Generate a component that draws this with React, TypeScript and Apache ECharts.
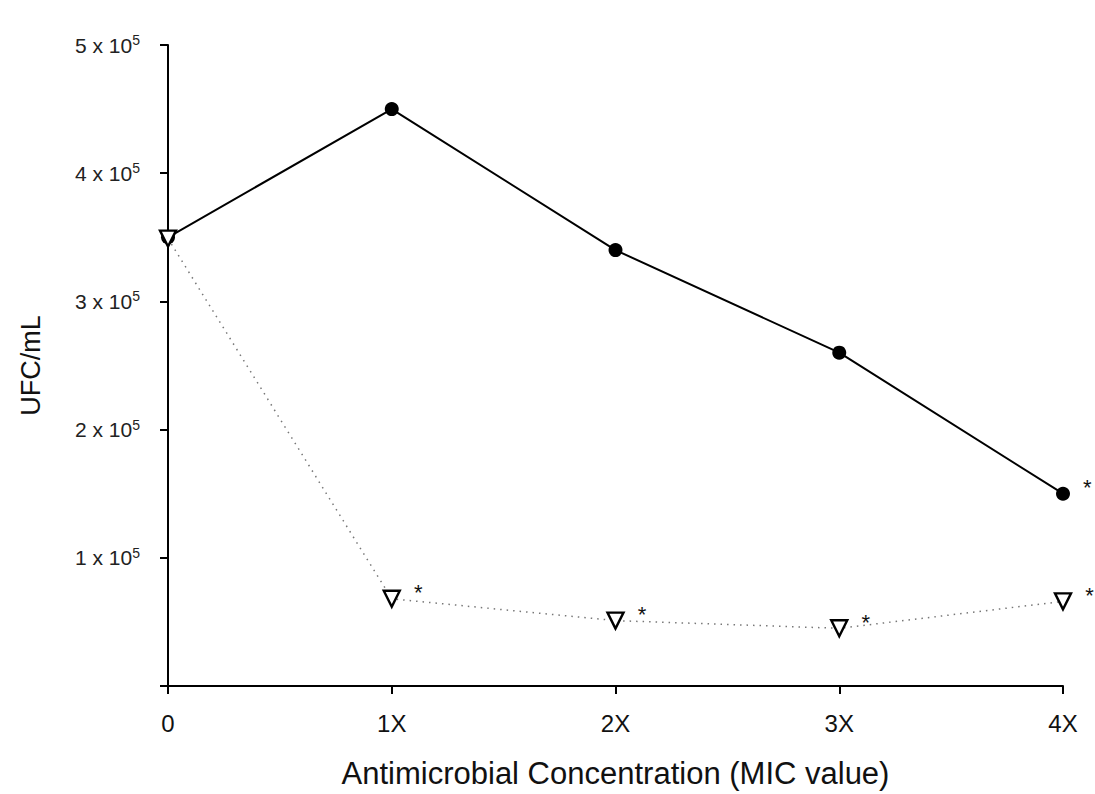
import React, { useEffect, useRef } from "react";
import * as echarts from "echarts";

const categories = ["0", "1X", "2X", "3X", "4X"];
const untreated = [350000, 450000, 340000, 260000, 150000];
const treated = [349000, 68000, 51000, 45000, 66000];
const untreatedSig = [false, false, false, false, true];
const treatedSig = [false, true, true, true, true];
const yTicks = [0, 100000, 200000, 300000, 400000, 500000];

export default function App() {
  const ref = useRef<HTMLDivElement>(null);
  useEffect(() => {
    if (!ref.current) return;
    const chart = echarts.init(ref.current, undefined, { renderer: "svg" });
    const font = "Liberation Sans, Arial, sans-serif";
    const star = (sig: boolean) =>
      sig
        ? {
            show: true,
            formatter: "*",
            position: "right",
            distance: 13,
            offset: [0, -6],
            fontSize: 22,
            color: "#111",
            fontFamily: font,
          }
        : { show: false };
    chart.setOption({
      animation: false,
      backgroundColor: "#fff",
      grid: { left: 168, right: 32, top: 45, bottom: 105, containLabel: false },
      xAxis: {
        type: "category",
        data: categories,
        boundaryGap: false,
        name: "Antimicrobial Concentration (MIC value)",
        nameLocation: "middle",
        nameGap: 72,
        nameTextStyle: { fontSize: 31, color: "#111", fontFamily: font },
        axisLine: { lineStyle: { color: "#000", width: 2 } },
        axisTick: { alignWithLabel: true, length: 8, lineStyle: { color: "#000", width: 2 } },
        axisLabel: { fontSize: 24, color: "#111", margin: 25, fontFamily: font },
        splitLine: { show: false },
      },
      yAxis: {
        type: "value",
        min: yTicks[0],
        max: yTicks[yTicks.length - 1],
        interval: yTicks[1] - yTicks[0],
        name: "UFC/mL",
        nameLocation: "middle",
        nameGap: 124,
        nameRotate: 90,
        nameTextStyle: { fontSize: 27, color: "#111", fontFamily: font },
        axisLine: { show: true, lineStyle: { color: "#000", width: 2 } },
        axisTick: { show: true, length: 8, lineStyle: { color: "#000", width: 2 } },
        splitLine: { show: false },
        axisLabel: {
          margin: 28,
          fontFamily: font,
          formatter: (v: number) => (v === 0 ? "" : `{a|${v / 100000} x 10}{s|5}`),
          rich: {
            a: { fontSize: 21, color: "#222", fontFamily: font, lineHeight: 24 },
            s: { fontSize: 14, color: "#222", fontFamily: font, lineHeight: 14, verticalAlign: "top" },
          },
        },
      },
      series: [
        {
          type: "line",
          data: treated.map((v, i) => ({ value: v, label: star(treatedSig[i]) })),
          symbol: "triangle",
          symbolRotate: 180,
          symbolSize: 16,
          showAllSymbol: true,
          lineStyle: { color: "#777", width: 1.5, type: [1.5, 5] },
          itemStyle: { color: "#fff", borderColor: "#000", borderWidth: 2.4 },
          z: 3,
        },
        {
          type: "line",
          data: untreated.map((v, i) => ({ value: v, label: star(untreatedSig[i]) })),
          symbol: "circle",
          symbolSize: 14,
          showAllSymbol: true,
          lineStyle: { color: "#000", width: 2 },
          itemStyle: { color: "#000", borderColor: "#000", borderWidth: 0 },
          z: 2,
        },
      ],
    });
    return () => chart.dispose();
  }, []);
  return (
    <div
      ref={ref}
      style={{ position: "fixed", left: 0, top: 0, width: 1095, height: 794, background: "#fff" }}
    />
  );
}
